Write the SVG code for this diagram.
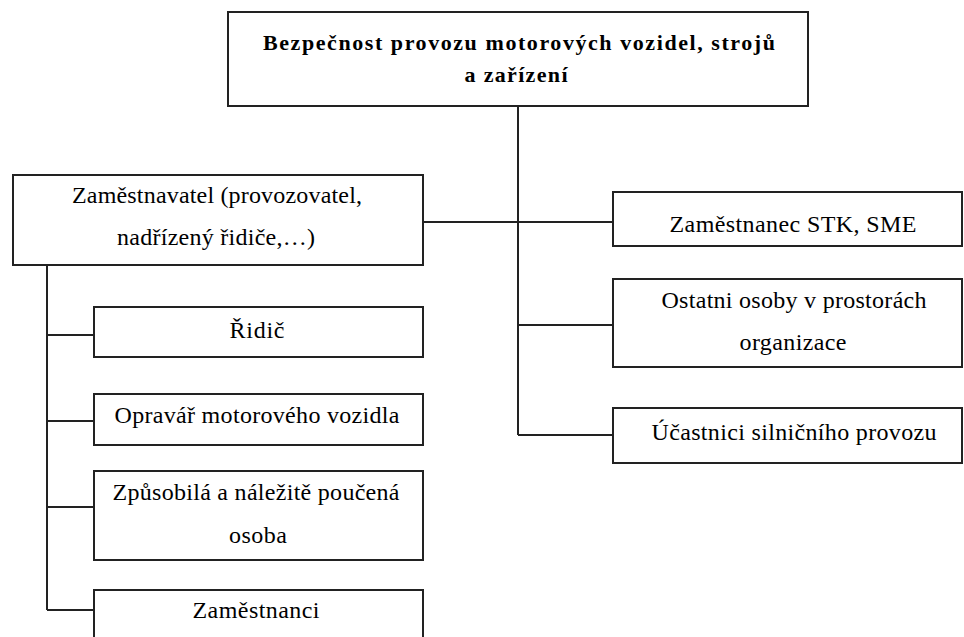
<svg xmlns="http://www.w3.org/2000/svg" width="964" height="637" viewBox="0 0 964 637">
<defs>
<style>
.box{fill:#fff;stroke:#222;stroke-width:2}
.ln{stroke:#222;stroke-width:2;fill:none}
</style>
</defs>
<rect width="964" height="637" fill="#fff"/>
<g id="connectors">
<path class="ln" d="M518 106V435M423 222H613M518 325H613M518 435H613"/>
<path class="ln" d="M47 265V610M47 335H94M47 421H94M47 507H94M47 610H94"/>
</g>
<g id="n-root">
<rect class="box" x="228" y="12" width="580" height="94"/>
<text font-family="Liberation Serif" font-weight="bold" font-size="22" text-anchor="middle" x="519" y="50" textLength="512">Bezpečnost provozu motorových vozidel, strojů</text>
<text font-family="Liberation Serif" font-weight="bold" font-size="22" text-anchor="middle" x="516" y="82" textLength="103">a zařízení</text>
</g>
<g id="n-zamestnavatel">
<rect class="box" x="13" y="175" width="410" height="90"/>
<text font-family="Liberation Serif" font-size="24" text-anchor="middle" x="217" y="203" textLength="290">Zaměstnavatel (provozovatel,</text>
<text font-family="Liberation Serif" font-size="24" text-anchor="middle" x="216" y="245" textLength="198">nadřízený řidiče,…)</text>
</g>
<g id="n-stk">
<rect class="box" x="613" y="192" width="349" height="54"/>
<text font-family="Liberation Serif" font-size="24" text-anchor="middle" x="793" y="232" textLength="247">Zaměstnanec STK, SME</text>
</g>
<g id="n-ostatni">
<rect class="box" x="613" y="279" width="349" height="88"/>
<text font-family="Liberation Serif" font-size="24" text-anchor="middle" x="794" y="308" textLength="265">Ostatni osoby v prostorách</text>
<text font-family="Liberation Serif" font-size="24" text-anchor="middle" x="793" y="350" textLength="107">organizace</text>
</g>
<g id="n-ucastnici">
<rect class="box" x="613" y="408" width="349" height="55"/>
<text font-family="Liberation Serif" font-size="24" text-anchor="middle" x="794" y="440" textLength="285">Účastnici silničního provozu</text>
</g>
<g id="n-ridic">
<rect class="box" x="94" y="307" width="329" height="50"/>
<text font-family="Liberation Serif" font-size="24" text-anchor="middle" x="257" y="338" textLength="55">Řidič</text>
</g>
<g id="n-opravar">
<rect class="box" x="94" y="394" width="329" height="51"/>
<text font-family="Liberation Serif" font-size="24" text-anchor="middle" x="257" y="423" textLength="285">Opravář motorového vozidla</text>
</g>
<g id="n-zpusobila">
<rect class="box" x="94" y="471" width="329" height="89"/>
<text font-family="Liberation Serif" font-size="24" text-anchor="middle" x="256" y="500" textLength="287">Způsobilá a náležitě poučená</text>
<text font-family="Liberation Serif" font-size="24" text-anchor="middle" x="258" y="543" textLength="58">osoba</text>
</g>
<g id="n-zamestnanci">
<rect class="box" x="94" y="590" width="329" height="60"/>
<text font-family="Liberation Serif" font-size="24" text-anchor="middle" x="256" y="618" textLength="127">Zaměstnanci</text>
</g>
</svg>
